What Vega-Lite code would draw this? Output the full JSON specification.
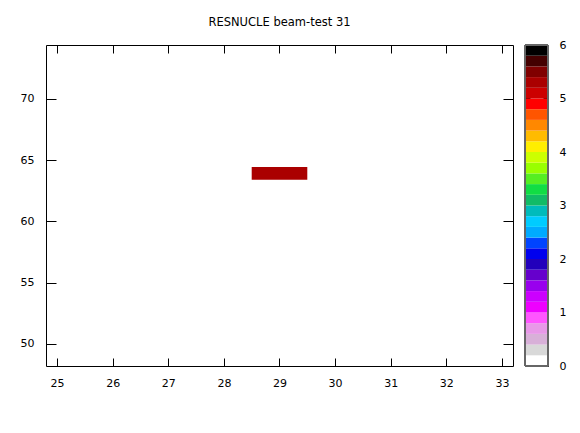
{
  "$schema": "https://vega.github.io/schema/vega-lite/v6.json",
  "padding": {"left": 19, "top": 16, "right": 0, "bottom": 0},
  "background": "#ffffff",
  "spacing": 12,
  "bounds": "flush",
  "config": {
    "font": "DejaVu Sans",
    "axis": {"domain": false, "grid": false, "tickColor": "#000000", "tickWidth": 1, "labelFont": "DejaVu Sans", "labelFontSize": 11, "labelColor": "#000000", "zindex": 1},
    "view": {"stroke": "#000000", "strokeWidth": 1},
    "title": {"font": "DejaVu Sans", "fontSize": 11.5, "fontWeight": "normal", "color": "#000000"}
  },
  "hconcat": [
    {
      "width": 467,
      "height": 321,
      "title": {"text": "RESNUCLE beam-test 31", "offset": 16, "anchor": "middle"},
      "data": {"values": [{"x0": 28.5, "x1": 29.5, "y0": 63.4, "y1": 64.45, "value": 5.3}]},
      "layer": [
        {
          "mark": {"type": "rect"},
          "encoding": {
            "x": {"field": "x0", "type": "quantitative", "scale": {"domain": [24.8, 33.2], "nice": false, "zero": false},
                  "axis": {"orient": "bottom", "title": null, "values": [25, 26, 27, 28, 29, 30, 31, 32, 33], "tickSize": -8, "labelPadding": 19}},
            "x2": {"field": "x1"},
            "y": {"field": "y0", "type": "quantitative", "scale": {"domain": [48.2, 74.4], "nice": false, "zero": false},
                  "axis": {"orient": "left", "title": null, "values": [50, 55, 60, 65, 70], "tickSize": -10, "labelPadding": 22}},
            "y2": {"field": "y1"},
            "color": {"field": "value", "type": "quantitative", "legend": null,
                      "scale": {"type": "threshold",
                                "domain": [0.2, 0.4, 0.6, 0.8, 1.0, 1.2, 1.4, 1.6, 1.8, 2.0, 2.2, 2.4, 2.6, 2.8, 3.0, 3.2, 3.4, 3.6, 3.8, 4.0, 4.2, 4.4, 4.6, 4.8, 5.0, 5.2, 5.4, 5.6, 5.8],
                                "range": ["#ffffff", "#d8d8d8", "#d8b0d8", "#e898e8", "#ff55ff", "#ee00ff", "#cc00ff", "#9900ee", "#6600cc", "#2200bb", "#0000ee", "#0044ff", "#00aaff", "#00ccff", "#00bbbb", "#11bb66", "#11dd44", "#55ee22", "#99ff00", "#ccff00", "#ffee00", "#ffbb00", "#ff8800", "#ff5500", "#ff0000", "#cc0000", "#aa0000", "#800000", "#440000", "#000000"]}}
          }
        },
        {
          "mark": {"type": "rect", "opacity": 0},
          "encoding": {
            "x": {"field": "x0", "type": "quantitative", "axis": {"orient": "top", "title": null, "labels": false, "values": [25, 26, 27, 28, 29, 30, 31, 32, 33], "tickSize": -8}},
            "x2": {"field": "x1"},
            "y": {"field": "y0", "type": "quantitative", "axis": {"orient": "right", "title": null, "labels": false, "values": [50, 55, 60, 65, 70], "tickSize": -10}},
            "y2": {"field": "y1"}
          }
        }
      ],
      "resolve": {"axis": {"x": "independent", "y": "independent"}}
    },
    {
      "width": 23,
      "height": 321,
      "view": {"stroke": "#666666"},
      "data": {"values": [
        {"lo": 0.0, "hi": 0.2}, {"lo": 0.2, "hi": 0.4}, {"lo": 0.4, "hi": 0.6}, {"lo": 0.6, "hi": 0.8}, {"lo": 0.8, "hi": 1.0},
        {"lo": 1.0, "hi": 1.2}, {"lo": 1.2, "hi": 1.4}, {"lo": 1.4, "hi": 1.6}, {"lo": 1.6, "hi": 1.8}, {"lo": 1.8, "hi": 2.0},
        {"lo": 2.0, "hi": 2.2}, {"lo": 2.2, "hi": 2.4}, {"lo": 2.4, "hi": 2.6}, {"lo": 2.6, "hi": 2.8}, {"lo": 2.8, "hi": 3.0},
        {"lo": 3.0, "hi": 3.2}, {"lo": 3.2, "hi": 3.4}, {"lo": 3.4, "hi": 3.6}, {"lo": 3.6, "hi": 3.8}, {"lo": 3.8, "hi": 4.0},
        {"lo": 4.0, "hi": 4.2}, {"lo": 4.2, "hi": 4.4}, {"lo": 4.4, "hi": 4.6}, {"lo": 4.6, "hi": 4.8}, {"lo": 4.8, "hi": 5.0},
        {"lo": 5.0, "hi": 5.2}, {"lo": 5.2, "hi": 5.4}, {"lo": 5.4, "hi": 5.6}, {"lo": 5.6, "hi": 5.8}, {"lo": 5.8, "hi": 6.0}
      ]},
      "layer": [
        {
          "mark": {"type": "rect"},
          "encoding": {
            "x": {"datum": 0, "type": "quantitative", "scale": {"domain": [0, 1], "nice": false, "zero": false}, "axis": null},
            "x2": {"datum": 1},
            "y": {"field": "lo", "type": "quantitative", "scale": {"domain": [0, 6], "nice": false, "zero": false},
                  "axis": {"orient": "right", "title": null, "values": [0, 1, 2, 3, 4, 5, 6], "tickSize": -5, "labelPadding": 16}},
            "y2": {"field": "hi"},
            "color": {"field": "lo", "type": "quantitative", "legend": null,
                      "scale": {"type": "threshold",
                                "domain": [0.2, 0.4, 0.6, 0.8, 1.0, 1.2, 1.4, 1.6, 1.8, 2.0, 2.2, 2.4, 2.6, 2.8, 3.0, 3.2, 3.4, 3.6, 3.8, 4.0, 4.2, 4.4, 4.6, 4.8, 5.0, 5.2, 5.4, 5.6, 5.8],
                                "range": ["#ffffff", "#d8d8d8", "#d8b0d8", "#e898e8", "#ff55ff", "#ee00ff", "#cc00ff", "#9900ee", "#6600cc", "#2200bb", "#0000ee", "#0044ff", "#00aaff", "#00ccff", "#00bbbb", "#11bb66", "#11dd44", "#55ee22", "#99ff00", "#ccff00", "#ffee00", "#ffbb00", "#ff8800", "#ff5500", "#ff0000", "#cc0000", "#aa0000", "#800000", "#440000", "#000000"]}}
          }
        },
        {
          "mark": {"type": "rect", "opacity": 0},
          "encoding": {
            "x": {"datum": 0, "type": "quantitative", "axis": null},
            "x2": {"datum": 1},
            "y": {"field": "lo", "type": "quantitative", "axis": {"orient": "left", "title": null, "labels": false, "values": [0, 1, 2, 3, 4, 5, 6], "tickSize": -5}},
            "y2": {"field": "hi"}
          }
        },
        {
          "mark": {"type": "rect", "fill": null, "fillOpacity": 0, "stroke": "#666666", "strokeWidth": 1},
          "encoding": {
            "x": {"datum": 0, "type": "quantitative", "axis": null},
            "x2": {"datum": 1},
            "y": {"datum": 0, "type": "quantitative", "axis": null},
            "y2": {"datum": 6}
          }
        }
      ],
      "resolve": {"axis": {"y": "independent"}}
    }
  ]
}
